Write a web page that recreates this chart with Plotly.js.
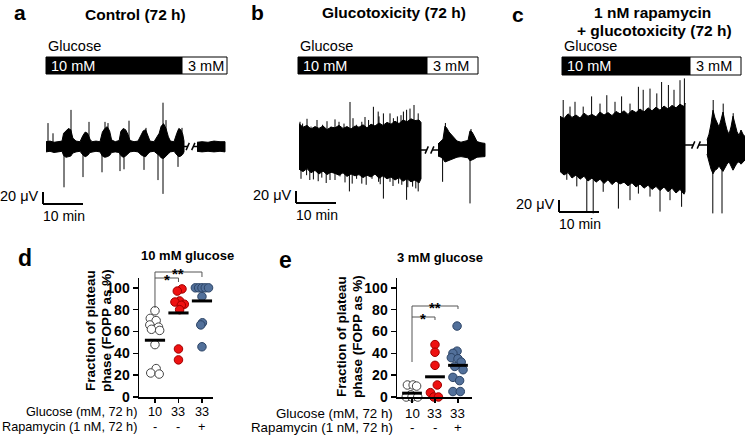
<!DOCTYPE html>
<html>
<head>
<meta charset="utf-8">
<script src="https://cdn.plot.ly/plotly-3.0.1.min.js"></script>
<style>
  html, body { margin: 0; padding: 0; background: #fff; }
  #fig { width: 745px; height: 436px; }
</style>
</head>
<body>
<div id="fig"></div>
<script>
// ------------------- recordings (time in min, signal in uV) -------------------
// a: control
var aLeftT  = [0, 1, 2, 3, 4, 4.4, 5, 5.6, 6.2, 6.7, 7.5, 8.5, 9.2, 9.8, 10.4, 11, 11.5, 12.5, 13.5, 14.1, 14.7, 15.3, 15.9, 16.4, 17.3,
               18.3, 18.7, 19.3, 19.9, 20.5, 21, 22, 23, 23.8, 24.3, 24.9, 25.5, 26, 27, 28.3, 28.8, 29.4, 30, 30.6, 31.1, 32,
               32.7, 33.2, 33.7, 34.2, 34.5];
var aLeftHi = [8, 9, 7, 8, 9, 22, 27, 30, 28, 14, 9, 8, 18, 24, 22, 12, 8, 9, 8, 24, 30, 33, 26, 11, 8,
               10, 25, 30, 28, 20, 10, 8, 9, 20, 26, 28, 18, 9, 8, 22, 34, 38, 30, 16, 9, 8,
               22, 30, 28, 20, 9];
var aLeftLo = [-9, -8, -10, -9, -8, -15, -18, -17, -16, -11, -9, -8, -14, -17, -15, -10, -9, -8, -9, -16, -18, -17, -15, -10, -9,
               -10, -15, -18, -16, -13, -9, -8, -9, -14, -16, -17, -12, -9, -8, -15, -19, -20, -17, -12, -9, -8,
               -14, -17, -16, -13, -9];
var aRightT  = [37.75, 39, 40.5, 42, 43.5, 44.75];
var aRightHi = [7, 8, 7, 9, 8, 8];
var aRightLo = [-8, -9, -8, -9, -8, -9];
var aSpikeT = [0.5, 1.75, 4.5, 6.25, 9.25, 10.75, 14.0, 14.75, 15.5, 18.5, 19.5, 20.75, 24.5, 25.0, 28.0, 29.25, 29.25, 30.0, 33.0, 34.0];
var aSpikeV = [39, 22, -68, 61, -51, 41, -43, 41, 39, -41, -38, 43, -39, 31, -56, 73, -79, 44, -34, 31];

// b: glucotoxicity
var bLeftT  = [0, 1, 2, 3, 4, 5, 6, 7, 8, 9, 10, 11, 12, 13, 14, 15, 16, 17, 18, 19, 20, 21, 22, 23, 24, 25, 26, 27, 28, 29, 30, 30.5];
var bLeftHi = [44, 38, 41, 35, 39, 36, 40, 34, 38, 37, 41, 36, 39, 35, 40, 38, 42, 37, 43, 40, 45, 41, 46, 43, 48, 44, 50, 47, 52, 49, 50, 46];
var bLeftLo = [-32, -36, -31, -38, -34, -40, -35, -41, -37, -39, -42, -38, -44, -40, -43, -41, -46, -42, -45, -40, -47, -43, -48, -45, -50, -46, -52, -48, -53, -50, -55, -48];
var bRightT  = [34.75, 35.5, 36.0, 36.5, 37.0, 37.5, 38.0, 38.75, 39.5, 40.5, 41.5, 42.25, 42.75, 43.25, 43.75, 44.5, 45.5, 46.5];
var bRightHi = [10, 14, 18, 40, 36, 30, 26, 20, 15, 13, 14, 16, 32, 30, 24, 14, 12, 11];
var bRightLo = [-10, -12, -15, -20, -19, -17, -16, -14, -12, -11, -12, -13, -18, -17, -15, -12, -11, -11];
var bSpikeT = [0.25, 0.9, 3, 5.9, 8, 10, 11.25, 12.75, 14.4, 15.7, 17.4, 18.6, 19.8, 21.1, 22.75, 23.6, 24.6, 26.1, 26.9, 27.75, 28.75, 29.8,
               2, 4.5, 7, 9, 13.5, 16.5, 20, 25.5,
               1.9, 3.6, 5.7, 7.75, 10.25, 12.6, 14.4, 15.7, 18.25, 19.9, 21.1, 22.75, 24.9, 26.9, 28.4, 29.8,
               0.5, 2.7, 4.8, 6.8, 9, 11.5, 13.3, 16.8, 20.3, 23.5, 25.7, 27.2, 29.2,
               35.9, 36.6, 42.75, 43];
var bSpikeV = [47, 44, 39, 42, 39, 47, 44, 80, 42, 47, 50, 72, 64, 61, 61, 53, 56, 64, 67, 69, 75, 61,
               52, 50, 48, 51, 53, 55, 56, 58,
               -42, -49, -46, -50, -44, -69, -48, -56, -48, -53, -81, -53, -56, -83, -61, -69,
               -48, -50, -52, -55, -50, -54, -56, -58, -57, -60, -58, -62, -64,
               -53, 45, -89, 35];

// c: rapamycin + glucotoxicity
var cLeftT  = [0, 1, 2, 3, 4, 5, 6, 7, 8, 9, 10, 11, 12, 13, 14, 15, 16, 17, 18, 19, 20, 21, 22, 23, 24, 25, 26, 27, 28, 29, 30, 31, 31.25];
var cLeftHi = [48, 44, 52, 46, 50, 45, 53, 48, 51, 47, 55, 50, 54, 49, 56, 52, 57, 51, 58, 54, 60, 55, 62, 57, 63, 58, 65, 60, 66, 62, 68, 64, 70];
var cLeftLo = [-44, -50, -46, -55, -50, -57, -52, -60, -55, -62, -57, -64, -58, -66, -60, -65, -62, -68, -63, -70, -65, -72, -67, -74, -69, -76, -70, -78, -72, -80, -74, -82, -78];
var cRightT  = [36.75, 37.25, 37.75, 38.25, 38.75, 39.25, 39.75, 40.25, 40.75, 41.25, 41.75, 42.25, 42.75, 43.25, 43.75, 44.25, 44.75, 45.25, 45.75, 46.25];
var cRightHi = [8, 18, 35, 58, 45, 38, 30, 42, 55, 38, 25, 18, 30, 48, 35, 22, 16, 25, 18, 14];
var cRightLo = [-15, -28, -40, -48, -42, -40, -35, -40, -44, -38, -32, -28, -35, -42, -36, -30, -28, -32, -28, -25];
var cSpikeT = [0.8, 2.5, 3.75, 5.8, 7.9, 10, 11.7, 13.75, 15.4, 17.5, 19.6, 20.8, 22.5, 24.2, 25.4, 27.1, 28.5, 30, 31.1,
               1.7, 4.2, 6.7, 8.3, 10.8, 14.6, 17.5, 19.6, 22.5, 25, 27.5, 30.4,
               38.2, 40.5, 38.3, 40.8, 43.3];
var cSpikeV = [75, 64, 72, 64, 81, 69, 83, 72, 81, 69, 97, 92, 94, 86, 105, 100, 92, 108, 111,
               -58, -69, -111, -114, -78, -106, -92, -81, -86, -111, -92, -103,
               -114, -114, 75, 69, 53];

// glucose periods: [start, switch to 3 mM, end] in min
var aGlucose = [0, 34, 45.25];
var bGlucose = [-0.25, 32, 44.75];
var cGlucose = [0.5, 32.5, 45.25];

// ------------------- FOPP scatter data (%) -------------------
var glucoseLabels = ['10', '33', '33'];
var rapaLabels = ['-', '-', '+'];
var fracTicks = [0, 20, 40, 60, 80, 100];

var d10 = [79, 72, 70, 66, 64, 62, 61, 48, 26, 22, 21];
var d10Off = [0, -0.2, 0.05, -0.22, 0.15, -0.15, 0.2, 0, 0.05, -0.18, 0.18];
var d33 = [99, 97, 88, 87, 85, 84, 80, 44, 34];
var d33Off = [0.15, -0.05, 0.05, -0.15, 0.25, 0.12, 0.05, 0, 0];
var d33r = [100, 100, 100, 100, 100, 92, 68, 66, 46];
var d33rOff = [-0.28, -0.14, 0, 0.14, 0.28, 0, 0.02, -0.05, 0];
var dMeans = [52, 77, 88];

var e10 = [11, 11, 10, 2, 0, 0, 0];
var e10Off = [-0.2, 0.05, 0.2, -0.05, -0.25, 0, 0.25];
var e33 = [48, 41, 29, 11, 4, 0, 0];
var e33Off = [0, 0, 0, 0.1, -0.2, -0.05, 0.15];
var e33r = [65, 42, 40, 36, 35, 32, 28, 25, 18, 15, 5, 5];
var e33rOff = [-0.04, -0.04, -0.22, -0.29, 0, 0.14, -0.14, 0.22, -0.22, 0.07, -0.22, 0.1];
var eMeans = [3.5, 18.5, 29];

// ------------------- helpers -------------------
var W = 745, H = 436;
function px(x) { return x / W; }
function py(y) { return 1 - y / H; }
function dom(a, b) { return [a / W, b / W]; }
function vdom(top, bot) { return [1 - bot / H, 1 - top / H]; }

var data = [];
var shapes = [];
var annotations = [];

function envelope(t, hi, lo, xa, ya) {
    data.push({
        type: 'scatter', x: t.concat(t.slice().reverse()), y: hi.concat(lo.slice().reverse()),
        xaxis: xa, yaxis: ya, mode: 'lines', fill: 'toself', fillcolor: '#000',
        line: {color: '#000', width: 1}, hoverinfo: 'skip'
    });
}

function spikes(t, v, xa, ya) {
    var xs = [], ys = [];
    for (var i = 0; i < t.length; i++) {
        xs.push(t[i], t[i], null);
        ys.push(0, v[i], null);
    }
    data.push({type: 'scatter', x: xs, y: ys, xaxis: xa, yaxis: ya, mode: 'lines',
        line: {color: '#000', width: 1}, hoverinfo: 'skip'});
}

function breakMark(tEnd, tStart, xa, ya) {
    var m = (tEnd + tStart) / 2;
    data.push({type: 'scatter', xaxis: xa, yaxis: ya, mode: 'lines', hoverinfo: 'skip',
        x: [tEnd, m - 0.7, null, m - 1.1, m - 0.3, null, m + 0.3, m + 1.1, null, m + 0.7, tStart],
        y: [0, 0, null, -6, 6, null, -6, 6, null, 0, 0],
        line: {color: '#000', width: 1.5}});
}

function scaleBar(t, v, xa, ya) {
    shapes.push({type: 'line', xref: xa, yref: ya, x0: t, x1: t, y0: v, y1: v + 20, line: {color: '#000', width: 2}});
    shapes.push({type: 'line', xref: xa, yref: ya, x0: t, x1: t + 10, y0: v, y1: v, line: {color: '#000', width: 2}});
    annotations.push({xref: xa, yref: ya, x: t - 0.6, y: v + 13, text: '20 \u03bcV', showarrow: false,
        xanchor: 'right', yanchor: 'middle', font: {size: 14.5}});
    annotations.push({xref: xa, yref: ya, x: t - 0.5, y: v - 4, text: '10 min', showarrow: false,
        xanchor: 'left', yanchor: 'top', font: {size: 14}});
}

function glucoseBar(g, xa, top, bot, labelY) {
    shapes.push({type: 'rect', xref: xa, yref: 'paper', x0: g[0], x1: g[1], y0: py(bot), y1: py(top),
        fillcolor: '#000', line: {color: '#000', width: 1}});
    shapes.push({type: 'rect', xref: xa, yref: 'paper', x0: g[1], x1: g[2], y0: py(bot), y1: py(top),
        fillcolor: '#fff', line: {color: '#000', width: 1}});
    annotations.push({xref: xa, yref: 'paper', x: g[0] + 0.75, y: py((top + bot) / 2), text: '10 mM', showarrow: false,
        xanchor: 'left', yanchor: 'middle', font: {size: 14.5, color: '#fff'}});
    annotations.push({xref: xa, yref: 'paper', x: g[1] + 0.9, y: py((top + bot) / 2), text: '3 mM', showarrow: false,
        xanchor: 'left', yanchor: 'middle', font: {size: 14.5}});
    annotations.push({xref: xa, yref: 'paper', x: g[0], y: py(labelY), text: 'Glucose', showarrow: false,
        xanchor: 'left', yanchor: 'middle', font: {size: 14.5}});
}

function recording(p) {
    envelope(p.lt, p.lh, p.ll, p.xa, p.ya);
    envelope(p.rt, p.rh, p.rl, p.xa, p.ya);
    spikes(p.st, p.sv, p.xa, p.ya);
    breakMark(p.lt[p.lt.length - 1], p.rt[0], p.xa, p.ya);
}

recording({lt: aLeftT, lh: aLeftHi, ll: aLeftLo, rt: aRightT, rh: aRightHi, rl: aRightLo, st: aSpikeT, sv: aSpikeV, xa: 'x', ya: 'y'});
recording({lt: bLeftT, lh: bLeftHi, ll: bLeftLo, rt: bRightT, rh: bRightHi, rl: bRightLo, st: bSpikeT, sv: bSpikeV, xa: 'x2', ya: 'y2'});
recording({lt: cLeftT, lh: cLeftHi, ll: cLeftLo, rt: cRightT, rh: cRightHi, rl: cRightLo, st: cSpikeT, sv: cSpikeV, xa: 'x3', ya: 'y3'});

scaleBar(-0.75, -95.8, 'x', 'y');
scaleBar(-0.75, -88.3, 'x2', 'y2');
scaleBar(-0.25, -111.7, 'x3', 'y3');

glucoseBar(aGlucose, 'x', 57, 74, 46);
glucoseBar(bGlucose, 'x2', 57, 74, 46);
glucoseBar(cGlucose, 'x3', 57, 75, 46);

// scatter groups
var styles = [
    {color: '#ffffff', line: '#444444'},
    {color: '#ee1111', line: '#a00000'},
    {color: '#52709a', line: '#2c4466'}
];

function group(vals, offs, cat, xa, ya) {
    var xs = vals.map(function (v, i) { return cat + offs[i]; });
    data.push({type: 'scatter', mode: 'markers', x: xs, y: vals, xaxis: xa, yaxis: ya, cliponaxis: false,
        marker: {size: 8.5, color: styles[cat].color, line: {color: styles[cat].line, width: 1}}, hoverinfo: 'y'});
}

function means(m, xa, ya) {
    var xs = [], ys = [];
    m.forEach(function (v, i) { xs.push(i - 0.43, i + 0.43, null); ys.push(v, v, null); });
    data.push({type: 'scatter', mode: 'lines', x: xs, y: ys, xaxis: xa, yaxis: ya, cliponaxis: false,
        line: {color: '#000', width: 3}, hoverinfo: 'skip'});
}

group(d10, d10Off, 0, 'x4', 'y4');
group(d33, d33Off, 1, 'x4', 'y4');
group(d33r, d33rOff, 2, 'x4', 'y4');
means(dMeans, 'x4', 'y4');
group(e10, e10Off, 0, 'x5', 'y5');
group(e33, e33Off, 1, 'x5', 'y5');
group(e33r, e33rOff, 2, 'x5', 'y5');
means(eMeans, 'x5', 'y5');

// significance brackets (y in pixels)
function bracket(xa, a, b, top, legBottom, tickBottom, label) {
    var ln = {color: '#555', width: 1};
    shapes.push({type: 'line', xref: xa, yref: 'paper', x0: a, x1: b, y0: py(top), y1: py(top), line: ln});
    shapes.push({type: 'line', xref: xa, yref: 'paper', x0: a, x1: a, y0: py(top), y1: py(legBottom), line: ln});
    shapes.push({type: 'line', xref: xa, yref: 'paper', x0: b, x1: b, y0: py(top), y1: py(tickBottom), line: ln});
    annotations.push({xref: xa, yref: 'paper', x: (a + b) / 2, y: py(top + 1), text: '<b>' + label + '</b>',
        showarrow: false, xanchor: 'center', yanchor: 'middle', font: {size: 15}});
}
bracket('x4', 0, 1, 278, 308, 282, '*');
bracket('x4', 0, 2, 272, 278, 277, '**');
bracket('x5', 0, 1, 317, 362, 320, '*');
bracket('x5', 0, 2, 306, 317, 309, '**');

// category rows
function rows(xa, rightPx, y1, y2, size) {
    annotations.push({xref: 'paper', yref: 'paper', x: px(rightPx), y: py(y1), text: 'Glucose (mM, 72 h)',
        showarrow: false, xanchor: 'right', yanchor: 'middle', font: {size: size}});
    annotations.push({xref: 'paper', yref: 'paper', x: px(rightPx), y: py(y2), text: 'Rapamycin (1 nM, 72 h)',
        showarrow: false, xanchor: 'right', yanchor: 'middle', font: {size: size}});
    for (var i = 0; i < glucoseLabels.length; i++) {
        annotations.push({xref: xa, yref: 'paper', x: i, y: py(y1), text: glucoseLabels[i],
            showarrow: false, xanchor: 'center', yanchor: 'middle', font: {size: size}});
        annotations.push({xref: xa, yref: 'paper', x: i, y: py(y2), text: rapaLabels[i],
            showarrow: false, xanchor: 'center', yanchor: 'middle', font: {size: size}});
    }
}
rows('x4', 139, 412, 427, 12.7);
rows('x5', 395, 413, 427, 13.3);

function label(text, x, y, size, xanchor, angle) {
    annotations.push({xref: 'paper', yref: 'paper', x: px(x), y: py(y), text: text, showarrow: false,
        xanchor: xanchor || 'center', yanchor: 'middle', textangle: angle || 0, font: {size: size}});
}
label('<b>a</b>', 12, 13, 21, 'left');
label('<b>b</b>', 249, 13, 21, 'left');
label('<b>c</b>', 510, 15, 21, 'left');
label('<b>Control (72 h)</b>', 135, 15, 15.5);
label('<b>Glucotoxicity (72 h)</b>', 394, 13, 15.5);
label('<b>1 nM rapamycin</b>', 652, 13, 15.5);
label('<b>+ glucotoxicity (72 h)</b>', 654, 31, 15.5);
label('<b>d</b>', 16, 258, 23, 'left');
label('<b>e</b>', 277, 260, 23, 'left');
label('<b>10 mM glucose</b>', 187, 255, 13);
label('<b>3 mM glucose</b>', 440, 257, 13);
label('<b>Fraction of plateau</b>', 90, 331, 13.5, 'center', -90);
label('<b>phase (FOPP as %)</b>', 106, 331, 13.5, 'center', -90);
label('<b>Fraction of plateau</b>', 341, 337, 13.5, 'center', -90);
label('<b>phase (FOPP as %)</b>', 357, 337, 13.5, 'center', -90);

var hidden = {visible: false, fixedrange: true};
function catAxis(d, r, anchor) {
    return {domain: d, range: r, anchor: anchor, showline: true, linecolor: '#000', linewidth: 1.5,
        ticks: 'outside', tickvals: [0, 1, 2], ticklen: 4, tickwidth: 1.5, tickcolor: '#000',
        showticklabels: false, showgrid: false, zeroline: false, fixedrange: true};
}
function fracAxis(anchor) {
    return {domain: vdom(278, 397), range: [0, 109], anchor: anchor, showline: true, linecolor: '#000', linewidth: 1.5,
        ticks: 'outside', tickvals: fracTicks,
        ticktext: fracTicks.map(function (v) { return '<b>' + v + '</b>'; }),
        ticklen: 5, tickwidth: 1.5, tickcolor: '#000',
        tickfont: {size: 14, color: '#000'}, showgrid: false, zeroline: false, fixedrange: true};
}

var layout = {
    width: W, height: H,
    margin: {l: 0, r: 0, t: 0, b: 0},
    paper_bgcolor: '#fff', plot_bgcolor: 'rgba(0,0,0,0)',
    showlegend: false,
    font: {family: 'Liberation Sans, Arial, sans-serif', color: '#000'},
    xaxis: Object.assign({domain: dom(30, 250), range: [-4, 51], anchor: 'y'}, hidden),
    yaxis: Object.assign({domain: vdom(85, 230), range: [-139.2, 102.5], anchor: 'x'}, hidden),
    xaxis2: Object.assign({domain: dom(280, 495), range: [-4.75, 49], anchor: 'y2'}, hidden),
    yaxis2: Object.assign({domain: vdom(85, 230), range: [-133.3, 108.3], anchor: 'x2'}, hidden),
    xaxis3: Object.assign({domain: dom(540, 745), range: [-5, 46.25], anchor: 'y3'}, hidden),
    yaxis3: Object.assign({domain: vdom(70, 235), range: [-150, 125], anchor: 'x3'}, hidden),
    xaxis4: catAxis(dom(139, 213), [-0.68, 2.47], 'y4'),
    yaxis4: fracAxis('x4'),
    xaxis5: catAxis(dom(397, 472), [-0.652, 2.609], 'y5'),
    yaxis5: fracAxis('x5'),
    shapes: shapes,
    annotations: annotations
};

Plotly.newPlot('fig', data, layout, {displayModeBar: false, staticPlot: true});
</script>
</body>
</html>
